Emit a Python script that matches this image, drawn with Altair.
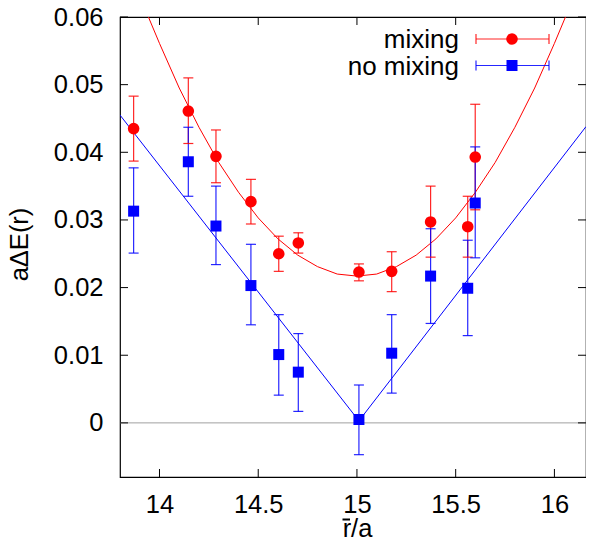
import altair as alt
import pandas as pd

# ---- data ----
r_mix = [13.869, 14.146, 14.286, 14.463, 14.604, 14.703, 15.010, 15.176, 15.373, 15.561, 15.599]
e_mix = [0.0435, 0.0461, 0.0394, 0.0327, 0.0250, 0.0266, 0.0223, 0.0224, 0.0297, 0.0290, 0.0393]
lo_mix = [0.0387, 0.0413, 0.0355, 0.0294, 0.0224, 0.0251, 0.0210, 0.0194, 0.0245, 0.0245, 0.0315]
hi_mix = [0.0483, 0.0510, 0.0433, 0.0360, 0.0276, 0.0281, 0.0235, 0.0253, 0.0350, 0.0335, 0.0471]

r_nomix = [13.869, 14.146, 14.286, 14.463, 14.604, 14.703, 15.010, 15.176, 15.373, 15.561, 15.599]
e_nomix = [0.0313, 0.0386, 0.0291, 0.0203, 0.0101, 0.0075, 0.0005, 0.0103, 0.0217, 0.0199, 0.0325]
lo_nomix = [0.0251, 0.0335, 0.0234, 0.0145, 0.0041, 0.0017, -0.0047, 0.0044, 0.0147, 0.0129, 0.0244]
hi_nomix = [0.0377, 0.0437, 0.0350, 0.0264, 0.0160, 0.0132, 0.0056, 0.0160, 0.0287, 0.0270, 0.0408]

fit_mix_x = [13.944, 14.0, 14.1, 14.2, 14.3, 14.4, 14.5, 14.6, 14.7, 14.8, 14.9, 15.0,
             15.1, 15.2, 15.3, 15.4, 15.5, 15.6, 15.7, 15.8, 15.9, 16.0, 16.056]
fit_mix_y = [0.0600, 0.0561, 0.0495, 0.0437, 0.0385, 0.0341, 0.0303, 0.0272, 0.0248, 0.0231, 0.0220, 0.0217,
             0.0220, 0.0231, 0.0248, 0.0272, 0.0303, 0.0341, 0.0385, 0.0437, 0.0495, 0.0561, 0.0600]

fit_nomix_x = [13.8, 15.01, 16.16]
fit_nomix_y = [0.0455, 0.0003, 0.0438]

series_names = ["mixing", "no mixing"]
series_colors = ["#ff0000", "#0000ff"]

x_ticks = [14, 14.5, 15, 15.5, 16]
y_ticks = [0, 0.01, 0.02, 0.03, 0.04, 0.05, 0.06]

X_DOMAIN = [13.8, 16.16]
Y_DOMAIN = [-0.008, 0.06]
W, H = 466, 460
FONT = "Liberation Sans"

pts = pd.DataFrame({
    "r": r_mix + r_nomix,
    "e": e_mix + e_nomix,
    "lo": lo_mix + lo_nomix,
    "hi": hi_mix + hi_nomix,
    "s": ["mixing"] * len(r_mix) + ["no mixing"] * len(r_nomix),
})
fits = pd.DataFrame({
    "r": fit_mix_x + fit_nomix_x,
    "e": fit_mix_y + fit_nomix_y,
    "s": ["mixing"] * len(fit_mix_x) + ["no mixing"] * len(fit_nomix_x),
})

xs = alt.Scale(domain=X_DOMAIN, nice=False, zero=False)
ys = alt.Scale(domain=Y_DOMAIN, nice=False, zero=False)
cs = alt.Scale(domain=series_names, range=series_colors)

x_axis = alt.Axis(values=x_ticks, format="~g", title="r/a", grid=False, ticks=False, tickSize=0,
                  domain=False, labelFontSize=25.5, labelPadding=15, labelFont=FONT, labelColor="#000",
                  titleFont=FONT, titleFontSize=25.5, titleFontWeight="normal", titleColor="#000",
                  titleBaseline="alphabetic", titleY=59, titleX=W / 2 + 4)
y_axis = alt.Axis(values=y_ticks, format="~g", title="aΔE(r)", grid=False, ticks=False, tickSize=0,
                  domain=False, labelFontSize=25.5, labelPadding=17, labelFont=FONT, labelColor="#000",
                  titleFont=FONT, titleFontSize=25.5, titleFontWeight="normal", titleColor="#000",
                  titleAngle=-90, titleBaseline="alphabetic", titleAlign="center",
                  titleX=-93, titleY=H / 2 - 3)

base = alt.Chart(pts)

zero_line = alt.Chart(pd.DataFrame({"z": [0.0]})).mark_rule(color="#a0a0a0", strokeWidth=1).encode(
    y=alt.Y("z:Q", scale=ys, axis=y_axis),
    x=alt.value(0), x2=alt.value(W),
)

fit_lines = alt.Chart(fits).mark_line(strokeWidth=1, clip=True).encode(
    x=alt.X("r:Q", scale=xs, axis=x_axis),
    y=alt.Y("e:Q", scale=ys),
    color=alt.Color("s:N", scale=cs, legend=None),
    detail="s:N",
)

err = base.mark_rule(strokeWidth=1.2, opacity=0.85).encode(
    x=alt.X("r:Q", scale=xs),
    y=alt.Y("lo:Q", scale=ys),
    y2="hi:Q",
    color=alt.Color("s:N", scale=cs, legend=None),
)
cap_lo = base.mark_tick(orient="horizontal", size=10, thickness=1.2, opacity=0.85).encode(
    x=alt.X("r:Q", scale=xs), y=alt.Y("lo:Q", scale=ys),
    color=alt.Color("s:N", scale=cs, legend=None),
)
cap_hi = base.mark_tick(orient="horizontal", size=10, thickness=1.2, opacity=0.85).encode(
    x=alt.X("r:Q", scale=xs), y=alt.Y("hi:Q", scale=ys),
    color=alt.Color("s:N", scale=cs, legend=None),
)

circles = base.transform_filter(alt.datum.s == "mixing").mark_point(
    shape="circle", filled=True, size=135, opacity=1, color="#ff0000").encode(
    x=alt.X("r:Q", scale=xs), y=alt.Y("e:Q", scale=ys))
squares = base.transform_filter(alt.datum.s == "no mixing").mark_point(
    shape="square", filled=True, size=121, opacity=1, color="#0000ff").encode(
    x=alt.X("r:Q", scale=xs), y=alt.Y("e:Q", scale=ys))

# inward tick marks on all four sides
xt = alt.Chart(pd.DataFrame({"t": x_ticks}))
yt = alt.Chart(pd.DataFrame({"t": y_ticks}))
tick_b = xt.mark_rule(color="#000", strokeWidth=1).encode(
    x=alt.X("t:Q", scale=xs), y=alt.value(H), y2=alt.value(H - 8))
tick_t = xt.mark_rule(color="#000", strokeWidth=1).encode(
    x=alt.X("t:Q", scale=xs), y=alt.value(0), y2=alt.value(8))
tick_l = yt.mark_rule(color="#000", strokeWidth=1).encode(
    y=alt.Y("t:Q", scale=ys), x=alt.value(0), x2=alt.value(8))
tick_r = yt.mark_rule(color="#000", strokeWidth=1).encode(
    y=alt.Y("t:Q", scale=ys), x=alt.value(W - 8), x2=alt.value(W))

# bar over the "r" of the x title (r̄/a)
rbar = alt.Chart(pd.DataFrame({"k": [0]})).mark_rule(color="#000", strokeWidth=2).encode(
    x=alt.value(222.5), x2=alt.value(230), y=alt.value(H + 42.5))


def legend_entry(label, color, shape, size, ypix):
    d = alt.Chart(pd.DataFrame({"label": [label]}))
    txt = d.mark_text(align="right", baseline="alphabetic", fontSize=26, font=FONT, color="#000").encode(
        text="label:N", x=alt.value(339), y=alt.value(ypix + 9))
    bar = d.mark_rule(color=color, strokeWidth=1.2, opacity=0.85).encode(
        x=alt.value(356), x2=alt.value(429), y=alt.value(ypix))
    c1 = d.mark_rule(color=color, strokeWidth=1.2, opacity=0.85).encode(
        x=alt.value(356), y=alt.value(ypix - 5), y2=alt.value(ypix + 5))
    c2 = d.mark_rule(color=color, strokeWidth=1.2, opacity=0.85).encode(
        x=alt.value(429), y=alt.value(ypix - 5), y2=alt.value(ypix + 5))
    mk = d.mark_point(shape=shape, filled=True, size=size, opacity=1, color=color).encode(
        x=alt.value(392), y=alt.value(ypix))
    return [txt, bar, c1, c2, mk]


legend_layers = legend_entry("mixing", "#ff0000", "circle", 135, 22) + \
    legend_entry("no mixing", "#0000ff", "square", 121, 48.5)

chart = alt.layer(
    zero_line, fit_lines, err, cap_lo, cap_hi, circles, squares,
    tick_b, tick_t, tick_l, tick_r, rbar, *legend_layers
).properties(
    width=W, height=H,
    autosize=alt.AutoSizeParams(type="none"),
    padding={"left": 112, "top": 9, "right": 0, "bottom": 62},
    background="#ffffff",
).configure_view(
    stroke="#000", strokeWidth=1.2
)

chart.save("out.html", embed_options={"renderer": "svg", "actions": False})
